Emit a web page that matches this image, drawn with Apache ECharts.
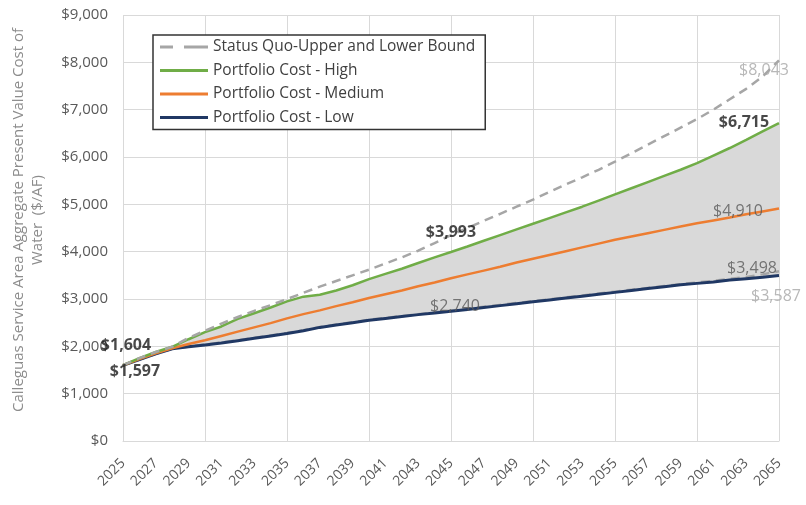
<!DOCTYPE html>
<html>
<head>
<meta charset="utf-8">
<script src="https://cdn.jsdelivr.net/npm/echarts@6/dist/echarts.min.js"></script>
<style>
  html, body { margin: 0; padding: 0; background: #fff; }
  #chart { width: 806px; height: 505px; }
</style>
</head>
<body>
<div id="chart"></div>
<script>
// Fiscal years on the horizontal axis
const years = [
  '2025','2026','2027','2028','2029','2030','2031','2032','2033','2034',
  '2035','2036','2037','2038','2039','2040','2041','2042','2043','2044',
  '2045','2046','2047','2048','2049','2050','2051','2052','2053','2054',
  '2055','2056','2057','2058','2059','2060','2061','2062','2063','2064','2065'
];

// Present value cost of water ($/AF)
const statusQuoUpper = [
  1604, 1750, 1880, 1990, 2180, 2330, 2480, 2620, 2750, 2870,
  3000, 3130, 3260, 3380, 3500, 3620, 3750, 3880, 4020, 4180,
  4350, 4500, 4650, 4800, 4950, 5100, 5260, 5420, 5570, 5730,
  5900, 6080, 6260, 6440, 6620, 6800, 7000, 7220, 7440, 7700, 8043
];
const statusQuoLower = [
  1597, 1720, 1840, 1950, 1995, 2040, 2080, 2130, 2180, 2230,
  2280, 2340, 2410, 2460, 2510, 2560, 2600, 2640, 2680, 2720,
  2755, 2795, 2835, 2875, 2915, 2955, 2995, 3035, 3075, 3115,
  3155, 3195, 3235, 3275, 3315, 3350, 3385, 3425, 3465, 3520, 3587
];
const costHigh = [
  1604, 1750, 1880, 1990, 2150, 2300, 2420, 2580, 2700, 2820,
  2950, 3050, 3090, 3180, 3290, 3420, 3530, 3640, 3760, 3880,
  3993, 4110, 4230, 4350, 4470, 4590, 4710, 4830, 4950, 5080,
  5210, 5340, 5470, 5600, 5730, 5870, 6030, 6190, 6360, 6540, 6715
];
const costMedium = [
  1600, 1730, 1850, 1960, 2050, 2130, 2220, 2310, 2400, 2490,
  2590, 2680, 2760, 2850, 2930, 3020, 3100, 3180, 3270, 3350,
  3440, 3520, 3600, 3680, 3770, 3850, 3930, 4010, 4090, 4170,
  4250, 4320, 4390, 4460, 4530, 4600, 4660, 4720, 4790, 4850, 4910
];
const costLow = [
  1597, 1720, 1840, 1950, 1990, 2030, 2070, 2120, 2170, 2220,
  2270, 2330, 2400, 2450, 2500, 2550, 2590, 2630, 2670, 2705,
  2740, 2780, 2820, 2860, 2900, 2940, 2980, 3020, 3060, 3100,
  3140, 3180, 3220, 3260, 3300, 3330, 3360, 3400, 3430, 3460, 3498
];

// Y-axis tick values
const yTicks = [0, 1000, 2000, 3000, 4000, 5000, 6000, 7000, 8000, 9000];

const fmt = v => '$' + v.toLocaleString('en-US');

// Shaded band between high and low portfolio costs
const bandHeight = costHigh.map((v, i) => v - costLow[i]);

const FONT = '"Open Sans", "Noto Sans", sans-serif';

// Legend swatches: a solid stroke, and a two-dash stroke for the bounds
const SOLID = 'path://M0,0H48V3H0Z';
const DASHED = 'path://M0,0H13V3H0Z M24,0H48V3H24Z';

// Annotated values: source series, year index, style, offset from the point
const bold = { color: '#1a1a1a', fontWeight: 'bold' };
const mid = { color: '#595959', fontWeight: 'normal' };
const light = { color: '#a6a6a6', fontWeight: 'normal' };
const notes = [
  { src: costHigh, i: 0, st: bold, off: [3, -20] },
  { src: costLow, i: 0, st: bold, off: [12, 6] },
  { src: costHigh, i: 20, st: bold, off: [0, -20] },
  { src: costLow, i: 20, st: mid, off: [4, -5] },
  { src: costHigh, i: 40, st: bold, off: [-35, -1] },
  { src: costMedium, i: 40, st: mid, off: [-41, 3] },
  { src: costLow, i: 40, st: mid, off: [-27, -7] },
  { src: statusQuoUpper, i: 40, st: light, off: [-15, 10] },
  { src: statusQuoLower, i: 40, st: light, off: [-3, 25] }
];
const noteData = notes.map(n => ({
  value: [years[n.i], n.src[n.i]],
  label: {
    show: true,
    position: 'inside',
    offset: n.off,
    formatter: fmt(n.src[n.i]),
    fontFamily: FONT,
    fontSize: 16,
    color: n.st.color,
    fontWeight: n.st.fontWeight
  }
}));

const chart = echarts.init(document.getElementById('chart'), null, { renderer: 'canvas' });

chart.setOption({
  backgroundColor: '#ffffff',
  animation: false,
  textStyle: { fontFamily: FONT },
  grid: { left: 123, right: 27, top: 15, bottom: 64, containLabel: false },
  legend: {
    orient: 'vertical',
    left: 153,
    top: 35,
    backgroundColor: '#ffffff',
    borderColor: '#333333',
    borderWidth: 1.5,
    borderRadius: 0,
    padding: [4, 10, 4, 7],
    itemGap: 7.5,
    itemWidth: 48,
    itemHeight: 15,
    symbolKeepAspect: true,
    textStyle: { fontFamily: FONT, fontSize: 15.5, color: '#404040' },
    data: [
      { name: 'Status Quo-Upper and Lower Bound', icon: DASHED },
      { name: 'Portfolio Cost - High', icon: SOLID },
      { name: 'Portfolio Cost - Medium', icon: SOLID },
      { name: 'Portfolio Cost - Low', icon: SOLID }
    ]
  },
  xAxis: {
    type: 'category',
    data: years,
    boundaryGap: false,
    axisLine: { lineStyle: { color: '#d9d9d9', width: 1 } },
    axisTick: { show: false },
    axisLabel: {
      interval: i => i % 2 === 0,
      rotate: 45,
      margin: 20,
      fontFamily: FONT,
      fontSize: 14,
      color: '#595959'
    },
    splitLine: {
      show: true,
      interval: i => i % 5 === 0,
      lineStyle: { color: '#d9d9d9', width: 1 }
    }
  },
  yAxis: {
    type: 'value',
    min: yTicks[0],
    max: yTicks[yTicks.length - 1],
    interval: yTicks[1] - yTicks[0],
    name: 'Calleguas Service Area Aggregate Present Value Cost of\nWater  ($/AF)',
    nameLocation: 'middle',
    nameRotate: 90,
    nameGap: 76,
    nameTextStyle: {
      fontFamily: FONT, fontSize: 15, color: '#8c8c8c', lineHeight: 19,
      padding: [0, 0, 0, 16]
    },
    axisLine: { show: false },
    axisTick: { show: false },
    axisLabel: { formatter: fmt, margin: 15, fontFamily: FONT, fontSize: 15, color: '#595959' },
    splitLine: { show: true, lineStyle: { color: '#d9d9d9', width: 1 } }
  },
  series: [
    {
      name: 'bandBase', type: 'line', stack: 'band', data: costLow,
      symbol: 'none', lineStyle: { opacity: 0 }, silent: true, z: 1
    },
    {
      name: 'band', type: 'line', stack: 'band', data: bandHeight,
      symbol: 'none', lineStyle: { opacity: 0 },
      areaStyle: { color: '#d9d9d9', opacity: 1 }, silent: true, z: 1
    },
    {
      name: 'Status Quo-Upper and Lower Bound', type: 'line', data: statusQuoLower,
      symbol: 'none', color: '#a6a6a6',
      lineStyle: { color: '#a6a6a6', width: 2.5, type: [9, 6] }, z: 2
    },
    {
      name: 'Portfolio Cost - Low', type: 'line', data: costLow,
      symbol: 'none', color: '#203864',
      lineStyle: { color: '#203864', width: 3 }, z: 3
    },
    {
      name: 'Portfolio Cost - Medium', type: 'line', data: costMedium,
      symbol: 'none', color: '#ed7d31',
      lineStyle: { color: '#ed7d31', width: 2.5 }, z: 3
    },
    {
      name: 'Portfolio Cost - High', type: 'line', data: costHigh,
      symbol: 'none', color: '#70ad47',
      lineStyle: { color: '#70ad47', width: 2.5 }, z: 3
    },
    {
      name: 'Status Quo-Upper and Lower Bound', type: 'line', data: statusQuoUpper,
      symbol: 'none', color: '#a6a6a6',
      lineStyle: { color: '#a6a6a6', width: 2.5, type: [9, 6] }, z: 4
    },
    {
      name: 'values', type: 'scatter', data: noteData,
      symbolSize: 0, silent: true, z: 6
    }
  ]
});
</script>
</body>
</html>
